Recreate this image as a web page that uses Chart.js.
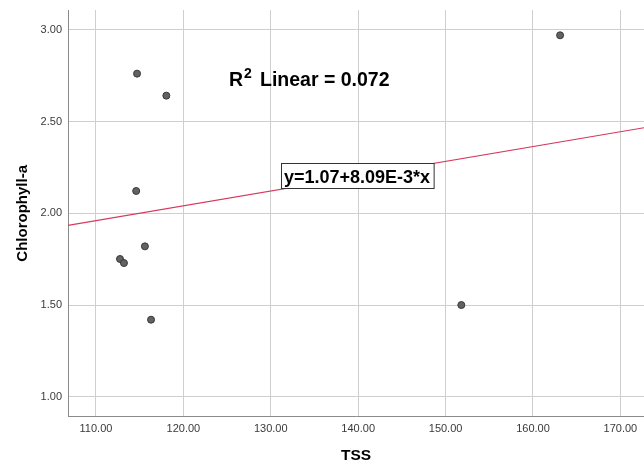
<!DOCTYPE html>
<html>
<head>
<meta charset="utf-8">
<script src="https://cdn.jsdelivr.net/npm/chart.js@4/dist/chart.umd.min.js"></script>
<style>
html,body{margin:0;padding:0;background:#fff;}
#wrap{width:644px;height:463px;position:relative;}
</style>
</head>
<body>
<div id="wrap"><canvas id="c" width="644" height="463"></canvas></div>
<script>
// Data
const tssValues = [114.7, 118.05, 114.6, 115.6, 112.75, 113.2, 116.3, 163.1, 151.8];
const chlValues = [2.762, 2.642, 2.122, 1.82, 1.751, 1.729, 1.42, 2.971, 1.50];
const fitX = [106.8, 172.7];
const fitY = [1.934, 2.467];
const xTickValues = [110, 120, 130, 140, 150, 160, 170];
const yTickValues = [1.0, 1.5, 2.0, 2.5, 3.0];
const xTitle = 'TSS';
const yTitle = 'Chlorophyll-a';
const r2Text = 'Linear = 0.072';
const eqText = 'y=1.07+8.09E-3*x';

const FONT = "'Liberation Sans', Arial, sans-serif";

const annot = {
  id: 'annot',
  afterDatasetsDraw(chart) {
    const ctx = chart.ctx;
    const a = chart.chartArea;
    ctx.save();
    ctx.fillStyle = '#000';
    ctx.textBaseline = 'alphabetic';
    ctx.textAlign = 'left';
    // R² label
    let x = a.left + 161, y = a.top + 75.7;
    ctx.font = "bold 19.5px " + FONT;
    ctx.fillText('R', x, y);
    ctx.font = "bold 14px " + FONT;
    ctx.fillText('2', x + 15, y - 7.4);
    ctx.font = "bold 19.5px " + FONT;
    ctx.fillText(r2Text, x + 31, y);
    // equation box
    ctx.font = "bold 18px " + FONT;
    const w = ctx.measureText(eqText).width;
    const tx = a.left + 216, ty = a.top + 172.5;
    ctx.fillStyle = '#fff';
    ctx.fillRect(tx - 2.5, ty - 19, w + 6.5, 25);
    ctx.strokeStyle = '#333';
    ctx.lineWidth = 1;
    ctx.strokeRect(tx - 2.5, ty - 19, w + 6.5, 25);
    ctx.fillStyle = '#000';
    ctx.fillText(eqText, tx, ty);
    ctx.restore();
  }
};

new Chart(document.getElementById('c'), {
  type: 'scatter',
  data: {
    datasets: [
      {
        type: 'line',
        data: fitX.map((v, i) => ({x: v, y: fitY[i]})),
        borderColor: '#d6385f',
        borderWidth: 1.2,
        pointRadius: 0,
        fill: false,
        order: 2
      },
      {
        data: tssValues.map((v, i) => ({x: v, y: chlValues[i]})),
        backgroundColor: '#626262',
        borderColor: '#383838',
        borderWidth: 1,
        pointRadius: 3.5,
        order: 1
      }
    ]
  },
  options: {
    responsive: false,
    devicePixelRatio: 1,
    animation: false,
    layout: { autoPadding: false, padding: { top: 10, right: 0, left: 0, bottom: 0 } },
    plugins: { legend: { display: false }, tooltip: { enabled: false } },
    scales: {
      x: {
        type: 'linear',
        min: 106.8,
        max: 172.7,
        afterBuildTicks(s) { s.ticks = xTickValues.map(v => ({value: v})); },
        afterFit(s) { s.height = 46.3; s.paddingLeft = 0; s.paddingRight = 0; },
        grid: { color: '#cfcfcf', lineWidth: 1, drawTicks: false },
        border: { color: '#8a8a8a', width: 1 },
        ticks: {
          padding: 6,
          color: '#3a3a3a',
          font: { family: FONT, size: 11 },
          callback: v => v.toFixed(2)
        },
        title: {
          display: true, text: xTitle, color: '#000',
          font: { family: FONT, size: 15.5, weight: 'bold', lineHeight: 1 },
          padding: { top: 0, bottom: 0 }
        }
      },
      y: {
        type: 'linear',
        min: 0.891,
        max: 3.109,
        afterBuildTicks(s) { s.ticks = yTickValues.map(v => ({value: v})); },
        afterFit(s) { s.width = 68; s.paddingTop = 0; s.paddingBottom = 0; },
        grid: { color: '#cfcfcf', lineWidth: 1, drawTicks: false },
        border: { color: '#8a8a8a', width: 1 },
        ticks: {
          padding: 6,
          color: '#3a3a3a',
          font: { family: FONT, size: 11 },
          callback: v => v.toFixed(2)
        },
        title: {
          display: true, text: yTitle, color: '#000',
          font: { family: FONT, size: 15, weight: 'bold', lineHeight: 1.2 },
          padding: { top: 14, bottom: 0 }
        }
      }
    }
  },
  plugins: [annot]
});
</script>
</body>
</html>
